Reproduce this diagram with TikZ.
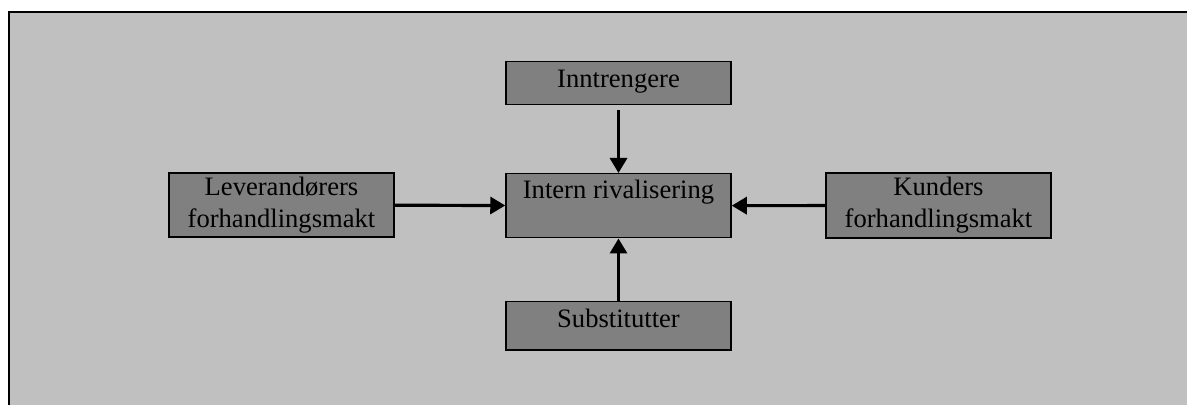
\documentclass[tikz,border=0pt]{standalone}
\usepackage{fontspec}
\setmainfont{Liberation Serif}
\usepackage{tikz}
\usetikzlibrary{arrows.meta}
\usepackage{xcolor}
\definecolor{pagegray}{HTML}{C0C0C0}
\definecolor{boxgray}{HTML}{808080}

\begin{document}
\begin{tikzpicture}[
  x=0.5pt, y=-0.5pt,
  >={Triangle[width=8.5pt,length=7.5pt]},
  every node/.style={font=\fontsize{13.3}{16}\selectfont},
  forcebox/.style={draw, fill=boxgray, line width=0.75pt, inner xsep=0pt,
    inner ysep=0pt, minimum width=112.5pt},
  pusharrow/.style={->, line width=1.6pt}
]

% Parameters (in pixel units)
\def\W{1187}   % width of picture
\def\H{405}    % height of picture
\def\C{618.5}  % centre column

\useasboundingbox (0,0) rectangle (\W,\H);

% --- Shaded frame ---
\fill[pagegray] (9,12) rectangle (\W,\H);
\draw[line width=1pt] (9,\H) -- (9,12) -- (\W,12);

% --- Boxes ---
\node[forcebox, anchor=north, text height=13pt, text depth=8.5pt]
  (entrants) at (\C,61) {Inntrengere};
\node[forcebox, anchor=north, text height=12.5pt, text depth=19.5pt]
  (rivalry) at (\C,173) {Intern rivalisering};
\node[forcebox, anchor=north, text height=13pt, text depth=11pt]
  (substitutes) at (\C,301) {Substitutter};
\node[forcebox, align=center, minimum height=32pt]
  (suppliers) at (281.5,205) {Leverandørers\\forhandlingsmakt};
\node[forcebox, align=center, minimum height=32.5pt]
  (buyers) at (938.5,205.5) {Kunders\\forhandlingsmakt};

% --- Arrows into the centre ---
\draw[pusharrow, shorten <=2.5pt] (entrants) -- (rivalry);
\draw[pusharrow] (substitutes) -- (rivalry);
\draw[pusharrow] (suppliers) -- (rivalry);
\draw[pusharrow] (buyers) -- (rivalry);

\end{tikzpicture}
\end{document}
